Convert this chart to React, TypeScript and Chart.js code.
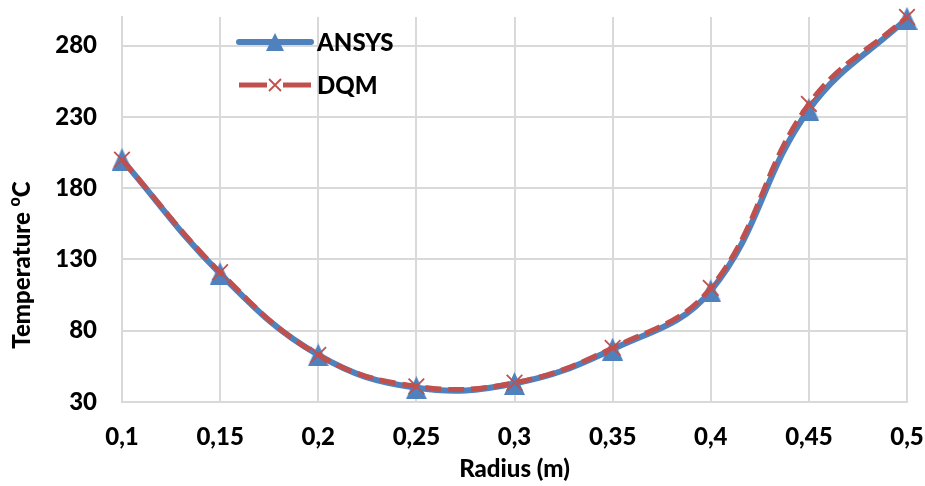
import React, { useEffect, useRef } from "react";
import { Chart, registerables } from "chart.js";

Chart.register(...registerables);

const radiusLabels = ["0,1", "0,15", "0,2", "0,25", "0,3", "0,35", "0,4", "0,45", "0,5"];
const ansysValues = [200, 120, 63, 40, 43, 67, 108, 235, 299];
const dqmValues = [200, 121, 63, 41, 43.5, 68, 110, 239, 300];
const yTickValues = [30, 80, 130, 180, 230, 280];
const yMin = 30;
const yMax = 300;

const seriesNames = ["ANSYS", "DQM"];
const xTitle = "Radius (m)";
const yTitleMain = "Temperature ";
const yTitleSup = "o";
const yTitleEnd = "C";

const BLUE = "#4f81bd";
const RED = "#c0504d";
const FONT = "Lato";
const FS = 24;
const FW = "900";

function makeTriangle(w: number, h: number, color: string): HTMLCanvasElement {
  const c = document.createElement("canvas");
  c.width = w;
  c.height = h;
  const g = c.getContext("2d")!;
  g.fillStyle = color;
  g.beginPath();
  g.moveTo(w / 2, 0);
  g.lineTo(w, h);
  g.lineTo(0, h);
  g.closePath();
  g.fill();
  return c;
}

const overlayPlugin = {
  id: "overlay",
  afterDraw(chart: any) {
    const ctx = chart.ctx as CanvasRenderingContext2D;
    const area = chart.chartArea;
    ctx.save();
    // Legend
    const lx0 = 239, lx1 = 311, tx = 317;
    const rows = [42, 85];
    // ANSYS
    ctx.strokeStyle = BLUE;
    ctx.lineWidth = 6;
    ctx.lineCap = "round";
    ctx.beginPath();
    ctx.moveTo(lx0, rows[0]);
    ctx.lineTo(lx1, rows[0]);
    ctx.stroke();
    const cx = (lx0 + lx1) / 2;
    ctx.fillStyle = BLUE;
    ctx.beginPath();
    ctx.moveTo(cx, rows[0] - 9);
    ctx.lineTo(cx + 9, rows[0] + 9);
    ctx.lineTo(cx - 9, rows[0] + 9);
    ctx.closePath();
    ctx.fill();
    // DQM
    ctx.strokeStyle = RED;
    ctx.lineWidth = 5;
    ctx.lineCap = "butt";
    ctx.beginPath();
    ctx.moveTo(lx0, rows[1]);
    ctx.lineTo(cx - 8, rows[1]);
    ctx.moveTo(cx + 8, rows[1]);
    ctx.lineTo(lx1, rows[1]);
    ctx.stroke();
    ctx.lineWidth = 1.8;
    ctx.beginPath();
    ctx.moveTo(cx - 6, rows[1] - 6);
    ctx.lineTo(cx + 6, rows[1] + 6);
    ctx.moveTo(cx + 6, rows[1] - 6);
    ctx.lineTo(cx - 6, rows[1] + 6);
    ctx.stroke();
    ctx.fillStyle = "#000";
    ctx.font = `${FW} ${FS}px ${FONT}`;
    ctx.textAlign = "left";
    ctx.textBaseline = "middle";
    ctx.fillText(seriesNames[0], tx, rows[0] + 1);
    ctx.fillText(seriesNames[1], tx, rows[1] + 1);

    // X title
    ctx.textAlign = "center";
    ctx.fillText(xTitle, (area.left + area.right) / 2, 469);

    // Y title with superscript
    ctx.translate(21, 265);
    ctx.rotate(-Math.PI / 2);
    ctx.textAlign = "left";
    ctx.font = `${FW} ${FS}px ${FONT}`;
    const w1 = ctx.measureText(yTitleMain).width;
    const w3 = ctx.measureText(yTitleEnd).width;
    ctx.font = `${FW} 16px ${FONT}`;
    const w2 = ctx.measureText(yTitleSup).width;
    const total = w1 + w2 + w3;
    let x = -total / 2;
    ctx.font = `${FW} ${FS}px ${FONT}`;
    ctx.fillText(yTitleMain, x, 1);
    x += w1;
    ctx.font = `${FW} 16px ${FONT}`;
    ctx.fillText(yTitleSup, x, -6);
    x += w2;
    ctx.font = `${FW} ${FS}px ${FONT}`;
    ctx.fillText(yTitleEnd, x, 1);
    ctx.restore();
  },
};

export default function App() {
  const canvasRef = useRef<HTMLCanvasElement | null>(null);

  useEffect(() => {
    document.body.style.margin = "0";
    const canvas = canvasRef.current;
    if (!canvas) return;
    const tri = makeTriangle(21, 23, BLUE);
    const chart = new Chart(canvas, {
      type: "line",
      data: {
        labels: radiusLabels,
        datasets: [
          {
            label: seriesNames[0],
            data: ansysValues,
            borderColor: BLUE,
            backgroundColor: BLUE,
            borderWidth: 6,
            tension: 0.4,
            pointStyle: tri,
            pointRadius: 12,
            pointBorderWidth: 0,
            pointBackgroundColor: BLUE,
            order: 2,
            clip: false,
          } as any,
          {
            label: seriesNames[1],
            data: dqmValues,
            borderColor: RED,
            backgroundColor: RED,
            borderWidth: 5,
            borderDash: [16, 7],
            tension: 0.4,
            pointStyle: "crossRot",
            pointRadius: 11,
            pointBorderWidth: 1.8,
            pointBorderColor: RED,
            order: 1,
            clip: false,
          } as any,
        ],
      },
      options: {
        animation: false,
        responsive: false,
        maintainAspectRatio: false,
        layout: { padding: { top: 17, right: 18, left: 0, bottom: 0 } },
        plugins: {
          legend: { display: false },
          tooltip: { enabled: false },
        },
        scales: {
          x: {
            type: "category",
            offset: false,
            grid: { color: "#d9d9d9", lineWidth: 2, drawTicks: false },
            border: { color: "#d9d9d9", width: 2 },
            ticks: {
              color: "#000",
              font: { family: FONT, size: FS, weight: FW },
              padding: 21,
              maxRotation: 0,
              autoSkip: false,
            },
            afterFit: (scale: any) => {
              scale.height = 84;
              scale.paddingLeft = 0;
              scale.paddingRight = 0;
              scale.paddingTop = 0;
              scale.paddingBottom = 0;
            },
          },
          y: {
            type: "linear",
            min: yMin,
            max: yMax,
            grid: { color: "#d9d9d9", lineWidth: 2, drawTicks: false },
            border: { color: "#d9d9d9", width: 2 },
            ticks: {
              color: "#000",
              font: { family: FONT, size: FS, weight: FW },
              padding: 25,
            },
            afterBuildTicks: (scale: any) => {
              scale.ticks = yTickValues.map((v) => ({ value: v }));
            },
            afterFit: (scale: any) => {
              scale.width = 122;
              scale.paddingLeft = 0;
              scale.paddingRight = 0;
              scale.paddingTop = 0;
              scale.paddingBottom = 0;
            },
          },
        },
      } as any,
      plugins: [overlayPlugin],
    });
    return () => chart.destroy();
  }, []);

  return (
    <div style={{ position: "fixed", left: 0, top: 0, width: 925, height: 486, background: "#fff" }}>
      <canvas ref={canvasRef} width={925} height={486} style={{ width: 925, height: 486 }} />
    </div>
  );
}
